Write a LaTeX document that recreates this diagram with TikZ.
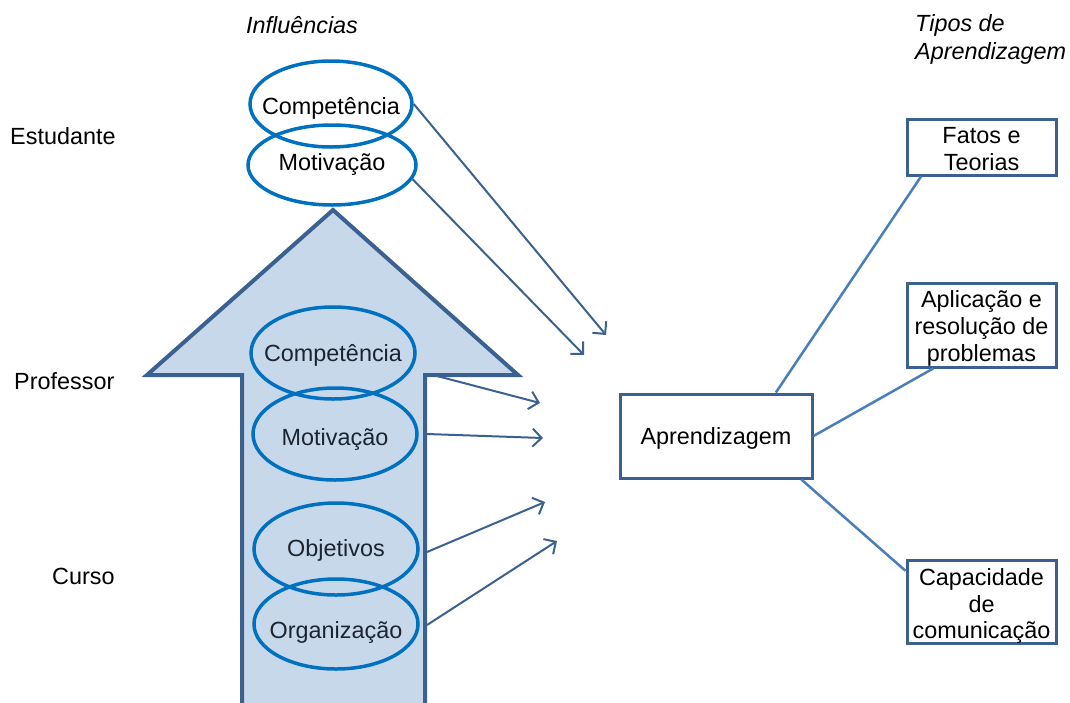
\documentclass[tikz,border=0pt]{standalone}
\usepackage{fontspec}
\setmainfont{Liberation Sans}
\usetikzlibrary{shapes.geometric,arrows.meta}
\definecolor{arrowblue}{HTML}{3B6190}
\definecolor{fillblue}{HTML}{C8D8EB}
\definecolor{ringblue}{HTML}{0070C0}
\definecolor{linkblue}{HTML}{4A7EBB}
\definecolor{textdark}{HTML}{1C2430}
% centred text of zero size, so the ellipse keeps its given size;
% the optional argument lowers the text a little
\newcommand{\ringlabel}[2][0pt]{\raisebox{\dimexpr-8pt-#1\relax}[0pt][0pt]{\makebox[0pt][c]{#2}}}

\begin{document}
\begin{tikzpicture}[x=1pt,y=-1pt,
  every node/.style={font=\fontsize{23.4}{27}\selectfont, inner sep=0pt},
  ring/.style={ellipse, draw=ringblue, line width=3.5pt, minimum width=164pt, minimum height=90pt,
    text height=0pt, text depth=0pt},
  infl/.style={draw=arrowblue, line width=2pt, -{Straight Barb[length=9pt,width=18pt,line width=2pt]}},
  tipobox/.style={draw=arrowblue, line width=3pt, minimum width=149pt},
  boxtext/.style={align=center, font=\fontsize{23.4}{26.8}\selectfont},
  link/.style={draw=linkblue, line width=2.5pt},
  heading/.style={font=\fontsize{23.4}{28}\selectfont\itshape}]
\useasboundingbox (0,0) rectangle (1070,702);

% headings and row labels
\node[heading] (hinf) at (302,25) {Influências};
\node[heading, align=left, anchor=west] (htipos) at (915,39) {Tipos de\\Aprendizagem};
\node[anchor=west] (lest) at (10,136) {Estudante};
\node[anchor=west] (lprof) at (14,381) {Professor};
\node[anchor=west] (lcur) at (52,576) {Curso};

% the big upward block arrow
\draw[line width=4pt, draw=arrowblue, fill=fillblue, line join=miter]
  (242,712) -- (242,375) -- (147,375) -- (333,210) -- (518,375) -- (425,375) -- (425,712);
\coordinate (shoulder) at (437,376);
\coordinate (s4) at (427,434);
\coordinate (s5) at (427,552);
\coordinate (s6) at (427,625);

% student influences
\node[ring, minimum width=162pt, minimum height=86pt] (e1) at (331,104) {\ringlabel[2pt]{Competência}};
\node[ring, minimum width=168pt, minimum height=80pt] (e2) at (332,165) {\ringlabel[-3pt]{Motivação}};

% teacher and course influences
\node[ring, text=textdark, minimum height=92pt] (e3) at (333,353) {\ringlabel{Competência}};
\node[ring, text=textdark, minimum height=92pt] (e4) at (335,434) {\ringlabel[3pt]{Motivação}};
\node[ring, text=textdark, minimum height=92pt] (e5) at (336,549) {\ringlabel[-1pt]{Objetivos}};
\node[ring, text=textdark] (e6) at (336,624) {\ringlabel[6pt]{Organização}};

% arrow tips pointing towards the learning node
\coordinate (t1) at (606,335);
\coordinate (t2) at (584,355);
\coordinate (t3) at (540,403);
\coordinate (t4) at (543,438);
\coordinate (t5) at (545,502);
\coordinate (t6) at (557,541);

\draw[infl] (e1.east) -- (t1);
\draw[infl] (e2.-10) -- (t2);
\draw[infl] (shoulder) -- (t3);
\draw[infl] (s4) -- (t4);
\draw[infl] (s5) -- (t5);
\draw[infl] (s6) -- (t6);

% learning and its types
\node[tipobox, minimum width=192pt, minimum height=84pt,
  label={[boxtext, yshift=-2pt]center:Aprendizagem}] (apr) at (716,436) {};
\node[tipobox, minimum height=56pt,
  label={[boxtext, yshift=-2pt]center:Fatos e\\Teorias}] (fat) at (981.5,147) {};
\node[tipobox, minimum height=84pt,
  label={[boxtext, yshift=-3.5pt]center:Aplicação e\\resolução de\\problemas}] (apl) at (981.5,325) {};
\node[tipobox, minimum height=83pt,
  label={[boxtext, yshift=-4.5pt]center:Capacidade\\de\\comunicação}] (cap) at (981.5,601.5) {};

\draw[link] (apr.36) -- (fat.206);
\draw[link] (apr.east) -- (apl.222);
\draw[link] (apr.-27) -- (cap.158);
\end{tikzpicture}
\end{document}
